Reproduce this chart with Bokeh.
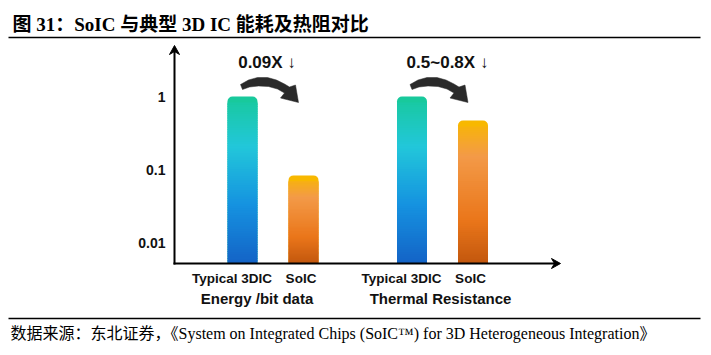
import math
from bokeh.plotting import figure
from bokeh.models import Range1d, LinearScale, ColumnDataSource
from bokeh.core.properties import value
from bokeh.embed import file_html
from bokeh.resources import INLINE

# ---------------- data ----------------
groups = ["Energy /bit data", "Thermal Resistance"]
categories = ["Typical 3DIC", "SoIC"]
energy_values = [1.0, 0.083]
thermal_values = [1.0, 0.47]
ratio_labels = ["0.09X \u2193", "0.5~0.8X \u2193"]
y_ticks = [0.01, 0.1, 1]
y_tick_labels = ["0.01", "0.1", "1"]
title_text = "图 31：SoIC 与典型 3D IC 能耗及热阻对比"
source_text = "数据来源：东北证券，《System on Integrated Chips (SoIC\u2122) for 3D Heterogeneous Integration》"

# ---------------- layout / style (page pixels) ----------------
W, H = 711, 355
AXIS_X = 174            # y-axis position
AXIS_Y = 263            # x-axis position
AXIS_TOP = 45
AXIS_RIGHT = 560
Y_ONE_PX = 96           # pixel row of value 1
PX_PER_DEC = 73.0
group_centers = [272.5, 442.0]
bar_offsets = [-30.5, 30.5]
bar_width = 30
cat_label_shift = [-41, 28]
group_label_shift = [-16, -2]
ratio_label_shift = [-6, 5]

blue_stops = [(0.0, "#18c99c"), (0.3, "#22c7da"), (0.65, "#1592e0"), (1.0, "#1463c6")]
orange_stops = [(0.0, "#f8b800"), (0.25, "#f39a48"), (0.7, "#ea761a"), (1.0, "#c2570e")]
bar_stops = [blue_stops, orange_stops]

LABEL_FONT = "Liberation Sans, DejaVu Sans"
SERIF_CJK = "Liberation Serif, Noto Sans CJK SC"


def hex2rgb(h):
    h = h.lstrip("#")
    return tuple(int(h[i:i + 2], 16) for i in (0, 2, 4))


def interp(stops, t):
    for (t0, c0), (t1, c1) in zip(stops[:-1], stops[1:]):
        if t <= t1:
            f = 0 if t1 == t0 else (t - t0) / (t1 - t0)
            a, b = hex2rgb(c0), hex2rgb(c1)
            return "#%02x%02x%02x" % tuple(round(a[k] + (b[k] - a[k]) * f) for k in range(3))
    return stops[-1][1]


# log range mapped so that the whole canvas is the frame
Y_END = 10 ** (Y_ONE_PX / PX_PER_DEC)
Y_BOTTOM = 10 ** ((Y_ONE_PX - H) / PX_PER_DEC)
Y_BASE = 10 ** ((Y_ONE_PX - AXIS_Y) / PX_PER_DEC)   # value at the x-axis

p = figure(width=W, height=H, output_backend="svg", toolbar_location=None,
           x_range=Range1d(0, W), y_range=Range1d(Y_BOTTOM, Y_END),
           y_axis_type="log", min_border=0)
p.extra_y_ranges = {"px": Range1d(H, 0)}
p.extra_y_scales = {"px": LinearScale()}
p.outline_line_color = None
p.grid.visible = False
p.axis.visible = False
p.background_fill_color = "white"
p.border_fill_color = "white"

# ---------------- bars with gradient ----------------
N = 70
all_values = [energy_values, thermal_values]
for gi, vals in enumerate(all_values):
    for ci, v in enumerate(vals):
        xc = group_centers[gi] + bar_offsets[ci]
        left, right = xc - bar_width / 2, xc + bar_width / 2
        stops = bar_stops[ci]
        p.quad(left=[left], right=[right], top=[v], bottom=[Y_BASE],
               fill_color=stops[0][1], line_color=None, border_radius=(5, 5, 0, 0))
        lb = math.log10(Y_BASE)
        lt = math.log10(v)
        lcap = lt - 6 / PX_PER_DEC
        edges = [lb + (lcap - lb) * i / N for i in range(N + 1)]
        bots, tops, cols = [], [], []
        for i in range(N):
            bots.append(10 ** edges[i])
            extra = 0 if i == N - 1 else 1.0 / PX_PER_DEC
            tops.append(10 ** (edges[i + 1] + extra))
            mid = (edges[i] + edges[i + 1]) / 2
            t = (lt - mid) / (lt - lb)
            cols.append(interp(stops, t))
        src = ColumnDataSource(dict(left=[left] * N, right=[right] * N,
                                    top=tops, bottom=bots, color=cols))
        p.quad(left="left", right="right", top="top", bottom="bottom",
               fill_color="color", line_color=None, source=src)

# ---------------- curved arrows ----------------
arrow_shape = [(-2, 84), (6, 79.5), (15, 77), (25, 77), (34, 79.5), (42, 83.5), (47, 86.5),
               (53, 84.5), (56, 102), (38, 97.5),
               (42, 92.5), (35, 88.5), (26, 86), (16, 85.5), (7, 86.5), (0, 89)]
xs_list, ys_list = [], []
for gi in range(len(groups)):
    base = group_centers[gi] + bar_offsets[0]
    xs_list.append([base + dx for dx, _ in arrow_shape])
    ys_list.append([y for _, y in arrow_shape])
p.patches(xs_list, ys_list, y_range_name="px", fill_color="#2a2a2a", line_color="#2a2a2a",
          line_width=0.5)

# ---------------- axes with arrowheads ----------------
p.segment(x0=[AXIS_X, AXIS_X - 1], y0=[AXIS_Y + 1, AXIS_Y], x1=[AXIS_X, AXIS_RIGHT - 3],
          y1=[AXIS_TOP + 3, AXIS_Y], y_range_name="px", line_color="black", line_width=2)
p.patches(xs=[[AXIS_X, AXIS_X + 5, AXIS_X, AXIS_X - 5],
              [AXIS_RIGHT, AXIS_RIGHT - 9, AXIS_RIGHT - 6, AXIS_RIGHT - 9]],
          ys=[[AXIS_TOP, AXIS_TOP + 9, AXIS_TOP + 6, AXIS_TOP + 9],
              [AXIS_Y, AXIS_Y - 5, AXIS_Y, AXIS_Y + 5]],
          y_range_name="px", fill_color="black", line_color="black", line_width=1)

# y tick labels through the log scale
p.text(x=[AXIS_X - 9] * len(y_ticks), y=y_ticks, text=y_tick_labels,
       text_align="right", text_baseline="middle", text_font_size="14px",
       text_font_style="bold", text_color="#111111", text_font=value(LABEL_FONT))

# ---------------- texts ----------------
cx, ct = [], []
for gi in range(len(groups)):
    for ci, c in enumerate(categories):
        cx.append(group_centers[gi] + cat_label_shift[ci])
        ct.append(c)
p.text(x=cx, y=[278] * len(cx), text=ct, y_range_name="px",
       text_align="center", text_baseline="middle", text_font_size="13.5px",
       text_font_style="bold", text_color="#111111", text_font=value(LABEL_FONT))
gx = [group_centers[i] + group_label_shift[i] for i in range(len(groups))]
p.text(x=gx, y=[298] * len(groups), text=groups, y_range_name="px",
       text_align="center", text_baseline="middle", text_font_size="15px",
       text_font_style="bold", text_color="#111111", text_font=value(LABEL_FONT))
rx = [group_centers[i] + ratio_label_shift[i] for i in range(len(groups))]
p.text(x=rx, y=[62] * len(groups), text=ratio_labels, y_range_name="px",
       text_align="center", text_baseline="middle", text_font_size="17px",
       text_font_style="bold", text_color="#111111", text_font=value(LABEL_FONT))

p.text(x=[12], y=[24], text=[title_text], y_range_name="px",
       text_align="left", text_baseline="middle", text_font_size="19px",
       text_font_style="bold", text_font=value(SERIF_CJK), text_color="black")
p.text(x=[10], y=[333], text=[source_text], y_range_name="px",
       text_align="left", text_baseline="middle", text_font_size="16px",
       text_font=value(SERIF_CJK), text_color="black")

p.segment(x0=[8, 8], y0=[37, 318], x1=[700, 700], y1=[37, 318], y_range_name="px",
          line_color="black", line_width=1.5)

open("out.html", "w").write(file_html(p, INLINE))
